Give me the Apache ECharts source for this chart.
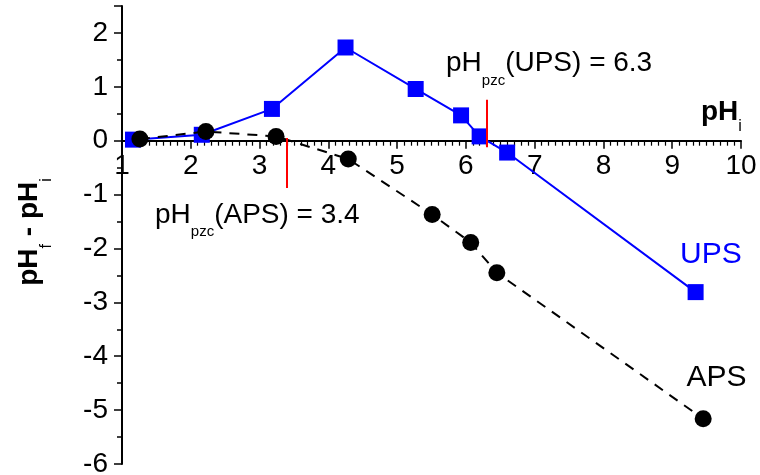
<!DOCTYPE html>
<html>
<head>
<meta charset="utf-8">
<script src="https://cdn.jsdelivr.net/npm/echarts@6/dist/echarts.min.js"></script>
<style>
  html, body { margin: 0; padding: 0; background: #fff; }
  #chart { width: 760px; height: 475px; }
</style>
</head>
<body>
<div id="chart"></div>
<script>
// UPS (blue squares)
var upsX = [1.16, 2.16, 3.18, 4.25, 5.27, 5.93, 6.20, 6.60, 9.34];
var upsY = [0.02, 0.11, 0.59, 1.73, 0.96, 0.47, 0.08, -0.22, -2.81];
// APS (black circles)
var apsX = [1.26, 2.22, 3.24, 4.29, 5.51, 6.07, 6.45, 9.45];
var apsY = [0.03, 0.17, 0.08, -0.34, -1.37, -1.89, -2.45, -5.16];
// pH of zero charge markers: x, y from, y to
var pzcAPS = [3.4, 0.05, -0.88];
var pzcUPS = [6.3, 0.76, -0.12];

var yMin = -6, yMax = 2.5;

var FONT = '"Liberation Sans", Arial, Helvetica, sans-serif';
var BLUE = '#0000ff';

function pairs(xs, ys) {
  return xs.map(function (x, i) { return [x, ys[i]]; });
}

function pzcLine(p) {
  return [{ coord: [p[0], p[1]] }, { coord: [p[0], p[2]] }];
}

// text with subscript, rich style
function subRich(color, size, weight, subSize, subPad) {
  return {
    m: { fontSize: size, lineHeight: size, fontWeight: weight, fontFamily: FONT, color: color, verticalAlign: 'top' },
    s: { fontSize: subSize, lineHeight: subSize, fontWeight: 'normal', fontFamily: FONT, color: color, verticalAlign: 'top', padding: [subPad, 0, 0, 0] }
  };
}

var chart = echarts.init(document.getElementById('chart'));

var option = {
  animation: false,
  grid: { left: 122, right: 19, top: 6, bottom: 11, containLabel: false, outerBoundsMode: 'none' },
  xAxis: {
    type: 'value',
    min: 1,
    max: 10,
    interval: 1,
    offset: 0,
    axisLine: { onZero: false, lineStyle: { color: '#000', width: 2 } },
    axisTick: { length: 8, lineStyle: { color: '#000', width: 1.5 } },
    minorTick: { show: true, splitNumber: 10, length: 5, lineStyle: { color: '#000', width: 1.2 } },
    axisLabel: {
      show: true, fontSize: 28, color: '#000', fontFamily: FONT, margin: 12,
      hideOverlap: false, showMinLabel: true, showMaxLabel: true
    },
    splitLine: { show: false }
  },
  yAxis: {
    type: 'value',
    min: yMin,
    max: yMax,
    interval: 1,
    axisLine: { show: true, onZero: false, lineStyle: { color: '#000', width: 2 } },
    axisTick: { show: true, length: 8, lineStyle: { color: '#000', width: 1.5 } },
    minorTick: { show: true, splitNumber: 2, length: 5, lineStyle: { color: '#000', width: 1.5 } },
    axisLabel: { fontSize: 28, color: '#000', fontFamily: FONT, margin: 14, showMaxLabel: false },
    splitLine: { show: false }
  },
  series: [
    {
      name: 'UPS',
      type: 'line',
      data: pairs(upsX, upsY),
      symbol: 'rect',
      symbolSize: 16,
      itemStyle: { color: BLUE },
      lineStyle: { color: BLUE, width: 2 },
      markLine: {
        silent: true,
        symbol: 'none',
        label: { show: false },
        lineStyle: { color: '#ff0000', width: 2, type: 'solid' },
        data: [pzcLine(pzcUPS), pzcLine(pzcAPS)]
      },
      z: 2
    },
    {
      name: 'APS',
      type: 'line',
      data: pairs(apsX, apsY),
      symbol: 'circle',
      symbolSize: 17,
      itemStyle: { color: '#000' },
      lineStyle: { color: '#000', width: 2, type: [10, 8] },
      z: 3
    }
  ],
  graphic: [
    {
      type: 'text', x: 446, y: 49.6,
      style: {
        text: '{m|pH}{s|pzc}{m|(UPS) = 6.3}',
        rich: subRich(BLUE, 28, 'normal', 15, 23.5),
        align: 'left', verticalAlign: 'top'
      }
    },
    {
      type: 'text', x: 155, y: 201.3,
      style: {
        text: '{m|pH}{s|pzc}{m|(APS) = 3.4}',
        rich: subRich('#000', 28, 'normal', 15, 23.5),
        align: 'left', verticalAlign: 'top'
      }
    },
    {
      type: 'text', x: 701, y: 98.6,
      style: {
        text: '{m|pH}{s|i}',
        rich: subRich('#000', 28, 'bold', 16, 19.6),
        align: 'left', verticalAlign: 'top'
      }
    },
    {
      type: 'text', x: 29.2, y: 232, rotation: Math.PI / 2,
      style: {
        text: '{m|pH}{s|f}{m| - pH}{s|i}',
        rich: subRich('#000', 28, 'bold', 16, 23.2),
        align: 'center', verticalAlign: 'middle'
      }
    },
    {
      type: 'text', x: 680, y: 254.6,
      style: { text: 'UPS', fill: BLUE, font: '30px ' + FONT, align: 'left', verticalAlign: 'middle' }
    },
    {
      type: 'text', x: 686.5, y: 377.9,
      style: { text: 'APS', fill: '#000', font: '30px ' + FONT, align: 'left', verticalAlign: 'middle' }
    }
  ]
};

chart.setOption(option);

// move the x axis up to y = 0, using the y scale of the chart
var zeroY = chart.convertToPixel({ yAxisIndex: 0 }, 0);
var bottomY = chart.convertToPixel({ yAxisIndex: 0 }, yMin);
chart.setOption({ xAxis: { offset: zeroY - bottomY } });
</script>
</body>
</html>
